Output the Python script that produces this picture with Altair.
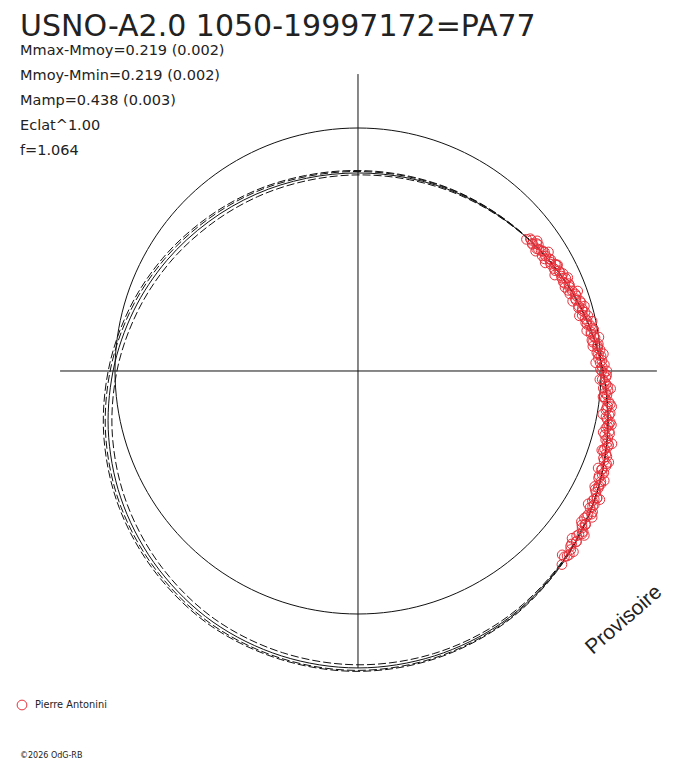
import altair as alt
import pandas as pd

# ---------------- text ----------------
TITLE = "USNO-A2.0 1050-19997172=PA77"
STATS = [
    "Mmax-Mmoy=0.219 (0.002)",
    "Mmoy-Mmin=0.219 (0.002)",
    "Mamp=0.438 (0.003)",
    "Eclat^1.00",
    "f=1.064",
]
OBSERVER = "Pierre Antonini"
CREDIT = "\u00a92026 OdG-RB"
WATERMARK = "Provisoire"

# ---------------- fitted curves (angle in degrees, radius in units of the mean circle) ----------------
CURVE_ANGLES = [0, 15, 30, 45, 60, 75, 90, 105, 120, 135, 150, 165,
                180, 195, 210, 225, 240, 255, 270, 285, 300, 315, 330, 345]
FIT_MAIN = [1.008, 0.956, 0.909, 0.869, 0.840, 0.821, 0.815, 0.821, 0.840, 0.869, 0.909, 0.956,
            1.008, 1.062, 1.113, 1.157, 1.193, 1.214, 1.222, 1.214, 1.193, 1.157, 1.113, 1.062]
FIT_LOW = [1.008, 0.956, 0.909, 0.867, 0.836, 0.815, 0.807, 0.811, 0.828, 0.855, 0.894, 0.940,
           0.992, 1.046, 1.097, 1.142, 1.179, 1.200, 1.209, 1.204, 1.186, 1.154, 1.112, 1.062]
FIT_HIGH = [1.008, 0.956, 0.909, 0.870, 0.843, 0.826, 0.821, 0.828, 0.849, 0.879, 0.920, 0.968,
            1.020, 1.074, 1.125, 1.168, 1.204, 1.224, 1.232, 1.222, 1.198, 1.159, 1.114, 1.062]
FIT_HIGHER = [1.008, 0.956, 0.910, 0.871, 0.845, 0.829, 0.825, 0.833, 0.855, 0.886, 0.928, 0.976,
              1.028, 1.082, 1.133, 1.176, 1.211, 1.229, 1.236, 1.226, 1.201, 1.161, 1.114, 1.062]

# ---------------- observations (phase angle in degrees, radius) ----------------
OBS_ANGLE_A = [37, 36, 35.5, 34, 33, 32, 31.5, 30, 29, 28, 27, 26.5, 25, 24, 23, 22, 21, 20.5, 19, 18,
               17, 16, 15, 14.5, 13, 12, 11, 10, 9, 8.5, 7, 6, 5, 4, 3, 2.5, 1, 0, -1, -2,
               -3, -3.5, -5, -6, -7, -8, -9, -9.5, -11, -12, -13, -14, -15, -15.5, -17, -18, -19, -20, -21, -22,
               -23, -24, -25, -26, -27, -28, -29, -30, -31, -32, -33, -34, -35, -36, -37, -38, -39, -40, -41, -42]
OBS_R_A = [0.894, 0.887, 0.903, 0.896, 0.907, 0.894, 0.906, 0.916, 0.907, 0.926, 0.910, 0.924, 0.924, 0.936,
           0.924, 0.939, 0.926, 0.941, 0.950, 0.943, 0.960, 0.944, 0.956, 0.965, 0.960, 0.958, 0.975, 0.985,
           0.971, 0.981, 0.974, 0.991, 1.000, 0.992, 0.991, 1.005, 1.005, 1.003, 1.023, 1.006, 1.022, 1.029,
           1.022, 1.018, 1.039, 1.037, 1.033, 1.052, 1.045, 1.056, 1.047, 1.067, 1.064, 1.058, 1.073, 1.062,
           1.083, 1.078, 1.093, 1.081, 1.092, 1.084, 1.102, 1.100, 1.099, 1.114, 1.103, 1.115, 1.126, 1.116,
           1.111, 1.130, 1.126, 1.140, 1.127, 1.140, 1.131, 1.143, 1.152, 1.143]
OBS_ANGLE_B = [38, 37.5, 36.2, 35, 34.4, 33.3, 32.5, 31, 30.4, 29.5, 28.4, 27.6, 26, 25.4, 24.5, 23.4,
               22.5, 21.6, 20, 19.5, 18.4, 17.5, 16.4, 15.5, 14, 13.5, 12.4, 11.5, 10.4, 9.5, 8, 7.5,
               6.4, 5.5, 4.4, 3.5, 2, 1.5, 0.4, -0.5, -1.5, -2.5, -4, -4.5, -5.5, -6.5, -7.5, -8.5,
               -10, -10.5, -11.5, -12.5, -13.5, -14.5, -16, -16.5, -17.5, -18.5, -19.5, -20.5, -22, -22.5,
               -23.5, -24.5, -25.5, -26.5, -28, -28.5, -29.5, -30.5, -31.5, -32.5, -34, -34.5, -35.5, -36.5,
               -38, -39.5, -41.5, -43.5]
OBS_R_B = [0.880, 0.894, 0.889, 0.906, 0.891, 0.902, 0.910, 0.896, 0.912, 0.910, 0.923, 0.910, 0.925, 0.934,
           0.922, 0.921, 0.939, 0.936, 0.928, 0.949, 0.943, 0.958, 0.947, 0.958, 0.951, 0.973, 0.965, 0.962,
           0.980, 0.972, 0.985, 0.971, 0.995, 0.991, 0.986, 1.002, 0.997, 1.014, 0.998, 1.013, 1.020, 1.015,
           1.012, 1.032, 1.029, 1.025, 1.047, 1.035, 1.049, 1.038, 1.059, 1.052, 1.063, 1.049, 1.068, 1.076,
           1.064, 1.076, 1.072, 1.092, 1.083, 1.095, 1.082, 1.098, 1.098, 1.091, 1.114, 1.106, 1.117, 1.108,
           1.127, 1.116, 1.128, 1.118, 1.138, 1.131, 1.141, 1.134, 1.149, 1.157]
OBS_ANGLE_C = [36, 34, 32, 30, 28, 26, 24, 22, 20, 18, 16, 14, 12, 10, 8, 6, 4, 2, 0, -2,
               -4, -6, -8, -10, -12, -14, -16, -18, -20, -22, -24, -26, -28, -30, -32, -34, -36, -38, -40, -42]
OBS_R_C = [0.911, 0.882, 0.924, 0.890, 0.930, 0.901, 0.945, 0.919, 0.962, 0.929, 0.969, 0.939, 0.985, 0.956,
           1.001, 0.972, 1.012, 0.979, 1.024, 0.996, 1.042, 1.014, 1.054, 1.023, 1.066, 1.040, 1.087, 1.055,
           1.098, 1.066, 1.109, 1.084, 1.127, 1.094, 1.136, 1.109, 1.151, 1.118, 1.157, 1.131]

# axis cross extents
AXIS_H = [-1.226, 1.230]
AXIS_V = [-1.222, 1.222]

RED = "#e8303a"
INK = "#111111"

W, H = 672, 752
xs = alt.Scale(domain=[-1.4403, 1.3251], nice=False, zero=False)
ys = alt.Scale(domain=[-1.6008, 1.4938], nice=False, zero=False)

curve_rows = []
for name, vals in [("main", FIT_MAIN), ("low", FIT_LOW), ("high", FIT_HIGH), ("higher", FIT_HIGHER)]:
    for a, r in zip(CURVE_ANGLES, vals):
        curve_rows.append({"curve": name, "angle": a, "r": r})
curves = pd.DataFrame(curve_rows)

obs = pd.DataFrame({"angle": OBS_ANGLE_A + OBS_ANGLE_B + OBS_ANGLE_C,
                    "r": OBS_R_A + OBS_R_B + OBS_R_C})

polar_x = "datum.r * cos(datum.angle * PI / 180)"
polar_y = "datum.r * sin(datum.angle * PI / 180)"

X = alt.X("x:Q", scale=xs, axis=None)
Y = alt.Y("y:Q", scale=ys, axis=None)

ref_circle = (
    alt.Chart(alt.sequence(0, 361, 2, as_="angle"))
    .transform_calculate(r="1.0")
    .transform_calculate(x=polar_x, y=polar_y)
    .mark_line(stroke=INK, strokeWidth=1)
    .encode(x=X, y=Y, order="angle:Q")
)

rules = (
    alt.Chart(pd.DataFrame({
        "x": [AXIS_H[0], 0.0], "x2": [AXIS_H[1], 0.0],
        "y": [0.0, AXIS_V[0]], "y2": [0.0, AXIS_V[1]],
    }))
    .mark_rule(stroke=INK, strokeWidth=1)
    .encode(x=X, x2="x2:Q", y=Y, y2="y2:Q")
)

main_curve = (
    alt.Chart(curves[curves.curve == "main"])
    .transform_calculate(x=polar_x, y=polar_y)
    .mark_line(stroke=INK, strokeWidth=1, interpolate="cardinal-closed")
    .encode(x=X, y=Y, order="angle:Q")
)

dashed_curves = (
    alt.Chart(curves[curves.curve != "main"])
    .transform_calculate(x=polar_x, y=polar_y)
    .mark_line(stroke=INK, strokeWidth=1, strokeDash=[8, 3], interpolate="cardinal-closed")
    .encode(x=X, y=Y, order="angle:Q", detail="curve:N")
)

points = (
    alt.Chart(obs)
    .transform_calculate(x=polar_x, y=polar_y)
    .mark_point(shape="circle", filled=False, stroke=RED, strokeWidth=1, size=95, opacity=1)
    .encode(x=X, y=Y)
)

FONT = "DejaVu Sans"


def label(txt, px, py, size, font=FONT, **kw):
    return (
        alt.Chart(pd.DataFrame({"t": [txt]}))
        .mark_text(font=font, fontSize=size, color="#222222", align=kw.pop("align", "left"),
                   baseline=kw.pop("baseline", "alphabetic"), **kw)
        .encode(text="t:N", x=alt.value(px), y=alt.value(py))
    )


texts = [label(TITLE, 12, 28, 30)]
for i, s in enumerate(STATS):
    texts.append(label(s, 12, 47 + 25 * i, 14.5))
texts.append(label(WATERMARK, 616, 612, 21, font="Liberation Sans", align="center",
                   baseline="middle", angle=319))
texts.append(label(OBSERVER, 27, 697, 9.8, baseline="middle"))
texts.append(label(CREDIT, 12, 752, 8, baseline="bottom"))

legend_sym = (
    alt.Chart(pd.DataFrame({"t": [OBSERVER]}))
    .mark_point(shape="circle", filled=False, stroke=RED, strokeWidth=1, size=95, opacity=1)
    .encode(x=alt.value(14), y=alt.value(697))
)

chart = (
    alt.layer(ref_circle, rules, dashed_curves, main_curve, points, legend_sym, *texts)
    .properties(width=W, height=H, padding=0, autosize=alt.AutoSizeParams(type="none"),
                background="white")
    .configure_view(stroke=None)
)

chart.save("out.html", embed_options={"renderer": "svg", "actions": False})
